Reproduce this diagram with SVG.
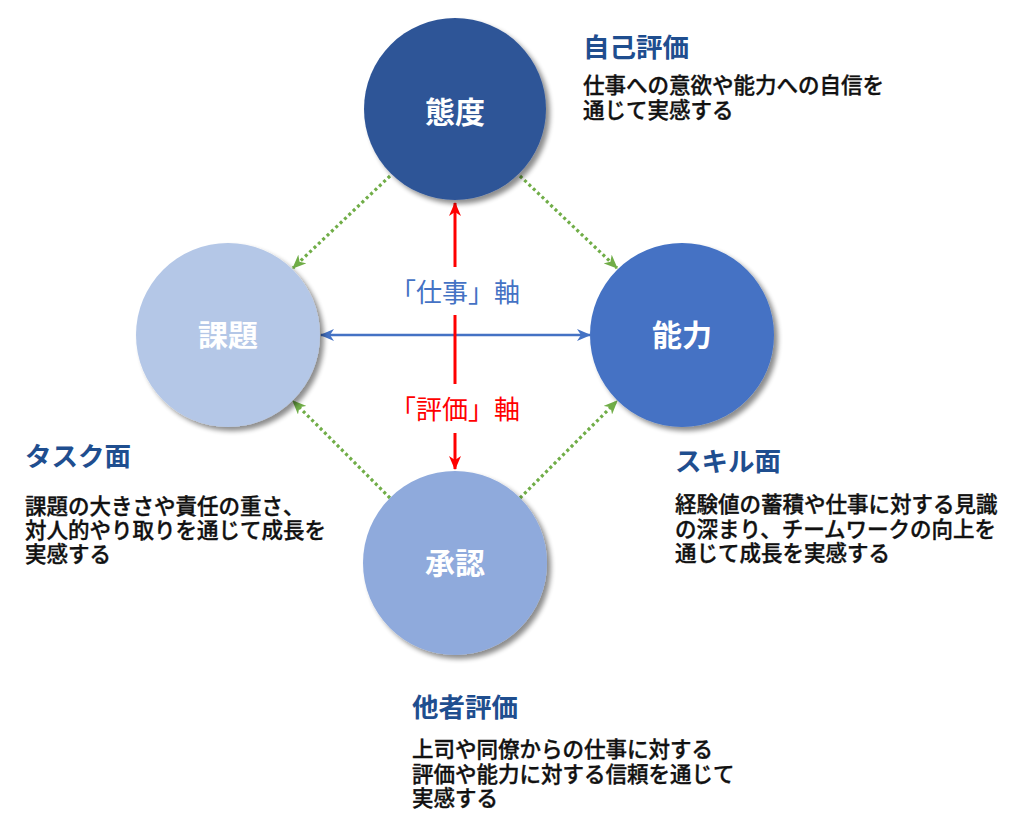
<svg xmlns="http://www.w3.org/2000/svg" width="1030" height="816" viewBox="0 0 1030 816">
<style>
.node-label{font-family:"Noto Sans CJK JP","Noto Sans",sans-serif;font-size:30px;font-weight:bold;fill:#ffffff;text-anchor:middle}
.head{font-family:"Noto Sans CJK JP","Noto Sans",sans-serif;font-size:26.5px;font-weight:bold;fill:#1F4E8F}
.body{font-family:"Noto Sans CJK JP","Noto Sans",sans-serif;font-size:21.5px;font-weight:500;fill:#111111;stroke:#111111;stroke-width:0.35px}
.axis{font-family:"Noto Sans CJK JP","Noto Sans",sans-serif;font-size:26px;text-anchor:middle}
.green{stroke:#70AD47;stroke-width:3.2;stroke-dasharray:3 3;fill:none}
</style>
<defs>
<filter id="sh" x="-20%" y="-20%" width="150%" height="150%">
<feGaussianBlur in="SourceAlpha" stdDeviation="2.5"/>
<feOffset dx="4" dy="4" result="b"/>
<feComponentTransfer><feFuncA type="linear" slope="0.45"/></feComponentTransfer>
<feMerge><feMergeNode/><feMergeNode in="SourceGraphic"/></feMerge>
</filter>
<marker id="ab" viewBox="0 0 14 12" refX="13" refY="6" markerWidth="14" markerHeight="12" markerUnits="userSpaceOnUse" orient="auto-start-reverse">
<path d="M0,0 L14,6 L0,12 L4,6 z" fill="#4472C4"/>
</marker>
<marker id="ar" viewBox="0 0 14 12" refX="13" refY="6" markerWidth="14" markerHeight="12" markerUnits="userSpaceOnUse" orient="auto-start-reverse">
<path d="M0,0 L14,6 L0,12 L4,6 z" fill="#FF0000"/>
</marker>
<marker id="ag" viewBox="0 0 14 12" refX="13" refY="6" markerWidth="14" markerHeight="12" markerUnits="userSpaceOnUse" orient="auto">
<path d="M0,0 L14,6 L0,12 L4,6 z" fill="#70AD47"/>
</marker>
</defs>
<rect width="1030" height="816" fill="#ffffff"/>

<g id="connectors">
<line class="green" x1="390" y1="176" x2="293" y2="268" marker-end="url(#ag)"/>
<line class="green" x1="520" y1="176" x2="617" y2="268" marker-end="url(#ag)"/>
<line class="green" x1="390" y1="498" x2="293" y2="401" marker-end="url(#ag)"/>
<line class="green" x1="520" y1="498" x2="617" y2="401" marker-end="url(#ag)"/>
<line x1="321" y1="335" x2="590" y2="335" stroke="#4472C4" stroke-width="2.5" marker-start="url(#ab)" marker-end="url(#ab)"/>
<line x1="455" y1="267" x2="455" y2="203" stroke="#FF0000" stroke-width="3" marker-end="url(#ar)"/>
<line x1="455" y1="315" x2="455" y2="384" stroke="#FF0000" stroke-width="3"/>
<line x1="455" y1="433" x2="455" y2="469" stroke="#FF0000" stroke-width="3" marker-end="url(#ar)"/>
<text class="axis" x="455" y="302" fill="#4472C4">「仕事」軸</text>
<text class="axis" x="455" y="419" fill="#FF0000">「評価」軸</text>
</g>

<g id="node-taido">
<circle cx="455" cy="109" r="91" fill="#2F5597" filter="url(#sh)"/>
<text class="node-label" x="455" y="123">態度</text>
</g>
<g id="node-kadai">
<circle cx="228" cy="335" r="92" fill="#B4C7E7" filter="url(#sh)"/>
<text class="node-label" x="228" y="346">課題</text>
</g>
<g id="node-noryoku">
<circle cx="682" cy="335" r="92" fill="#4472C4" filter="url(#sh)"/>
<text class="node-label" x="682" y="346">能力</text>
</g>
<g id="node-shonin">
<circle cx="455" cy="563" r="92" fill="#8FAADC" filter="url(#sh)"/>
<text class="node-label" x="455" y="574">承認</text>
</g>

<g id="label-jiko">
<text class="head" x="583" y="57">自己評価</text>
<text class="body" x="583" y="93">仕事への意欲や能力への自信を</text>
<text class="body" x="583" y="118">通じて実感する</text>
</g>
<g id="label-task">
<text class="head" x="25" y="466">タスク面</text>
<text class="body" x="25" y="514">課題の大きさや責任の重さ、</text>
<text class="body" x="25" y="538">対人的やり取りを通じて成長を</text>
<text class="body" x="25" y="562">実感する</text>
</g>
<g id="label-skill">
<text class="head" x="675" y="471">スキル面</text>
<text class="body" x="675" y="512">経験値の蓄積や仕事に対する見識</text>
<text class="body" x="675" y="537">の深まり、チームワークの向上を</text>
<text class="body" x="675" y="561">通じて成長を実感する</text>
</g>
<g id="label-tasha">
<text class="head" x="412" y="717">他者評価</text>
<text class="body" x="412" y="757">上司や同僚からの仕事に対する</text>
<text class="body" x="412" y="782">評価や能力に対する信頼を通じて</text>
<text class="body" x="412" y="806">実感する</text>
</g>
</svg>
